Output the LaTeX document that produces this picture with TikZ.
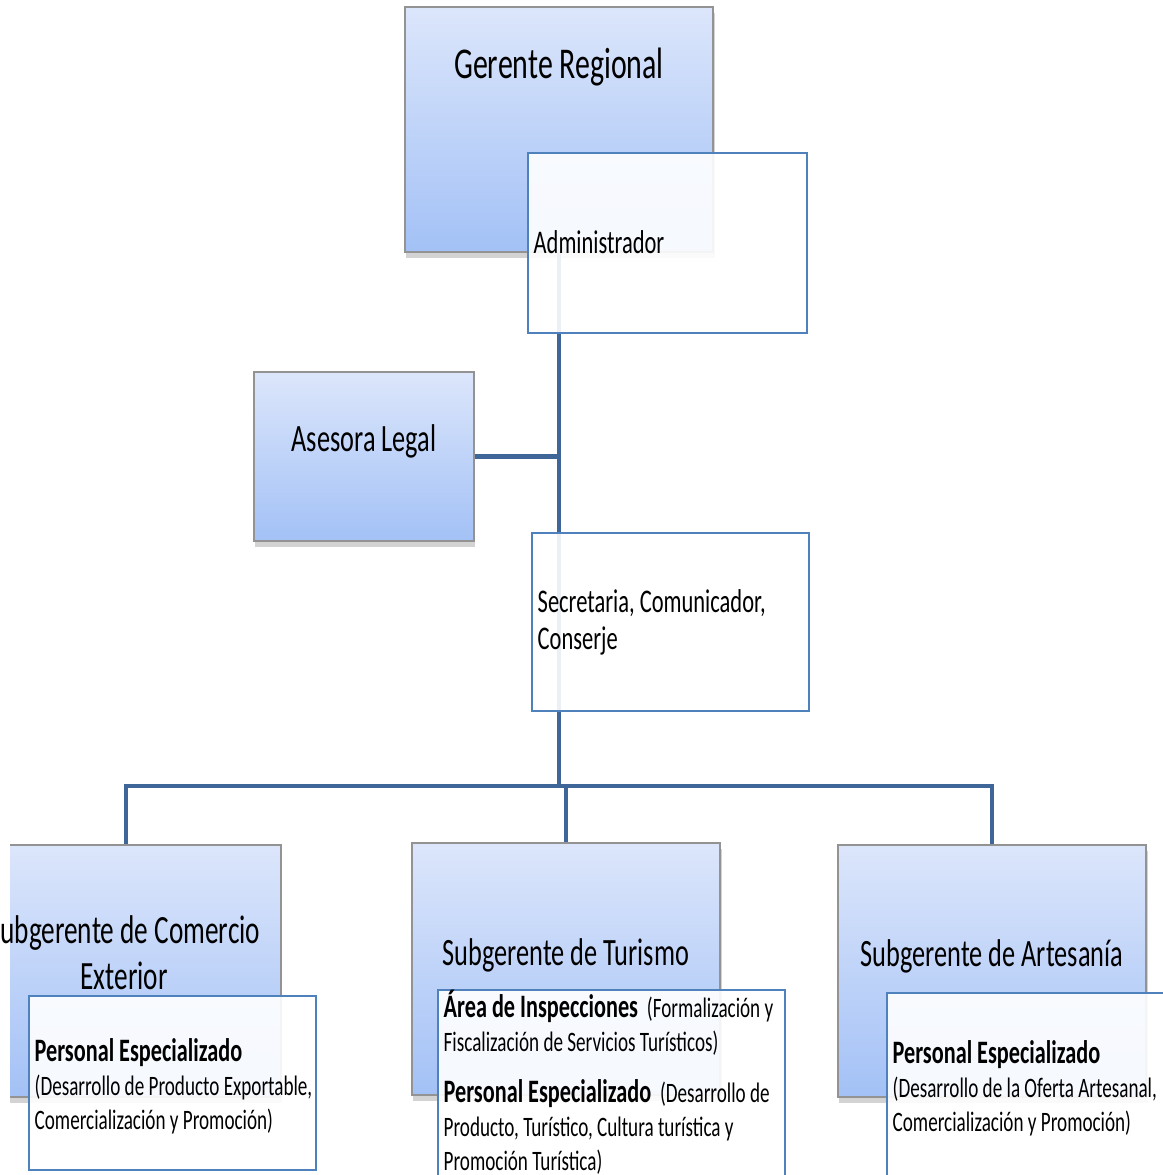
\documentclass[tikz,border=0pt]{standalone}
\usepackage{fontspec}
\setmainfont{Carlito}[FakeStretch=0.68]
\usetikzlibrary{shadows}
\definecolor{conncol}{HTML}{3F6699}
\definecolor{edgecol}{HTML}{4F81BD}
\definecolor{topcol}{HTML}{DCE6FB}
\definecolor{botcol}{HTML}{A3C1F6}
\newcommand{\headpart}[1]{{\fontsize{9.3}{9.7}\selectfont\bfseries #1}\hspace{1.3pt}}
\newcommand{\leftlines}[1]{\begin{tabular}[t]{@{}l@{}}#1\end{tabular}}
\newcommand{\midlines}[1]{\begin{tabular}[t]{@{}c@{}}#1\end{tabular}}
\tikzset{
  headbox/.style={draw=gray!85, line width=0.4pt, top color=topcol, bottom color=botcol,
    drop shadow={opacity=0.35, shadow xshift=0.4pt, shadow yshift=-1.6pt}, inner sep=0pt},
  infobox/.style={draw=edgecol, line width=0.75pt, fill=white, fill opacity=0.9, inner sep=0pt},
  conn/.style={draw=conncol, line width=1.2pt},
  lbl/.style={inner sep=0pt, text=black}
}

\begin{document}
\begin{tikzpicture}[x=0.01cm,y=-0.01cm]
\useasboundingbox (0,0) rectangle (1162,1175);

% shaded boxes
\node[headbox, minimum width=3.08cm, minimum height=2.45cm] (ger) at (559,129.5) {};
\node[headbox, minimum width=2.20cm, minimum height=1.69cm] (ases) at (364,456.5) {};
\begin{scope}
\clip (10,0) rectangle (1162,1175);
\node[headbox, minimum width=3.10cm, minimum height=2.52cm] (sub1) at (126,971) {};
\end{scope}
\node[headbox, minimum width=3.08cm, minimum height=2.52cm] (sub2) at (566,969) {};
\node[headbox, minimum width=3.08cm, minimum height=2.52cm] (sub3) at (992,971) {};

% lines
\coordinate (bus) at (0,786);
\draw[conn] (ger.south) -- (ger.south |- bus);
\draw[conn] (ases.east) -- (ases.east -| ger.south);
\draw[conn] (sub1.north) |- (bus -| sub3.north) -- (sub3.north);
\draw[conn] (sub2.north) -- (sub2.north |- bus);

% white boxes
\node[infobox, minimum width=2.79cm, minimum height=1.80cm] (adm) at (667.5,243) {};
\node[infobox, minimum width=2.77cm, minimum height=1.78cm] (sec) at (670.5,622) {};
\node[infobox, minimum width=2.87cm, minimum height=1.74cm] (det1) at (172.5,1083) {};
\node[infobox, minimum width=3.47cm, minimum height=2.15cm] (det2) at (611.5,1097.5) {};
\node[infobox, minimum width=2.93cm, minimum height=2.15cm] (det3) at (1033.5,1100.5) {};

% texts
\node[lbl, anchor=base, font=\fontsize{12.5}{15}\selectfont] (gerT) at (559,78) {Gerente Regional};
\node[lbl, anchor=base west, font=\fontsize{9.4}{11}\selectfont] (admT) at (533,253) {Administrador};
\node[lbl, anchor=base, font=\fontsize{11}{13}\selectfont] (asesT) at (364,451) {Asesora Legal};
\node[lbl, anchor=base west, font=\fontsize{9.4}{10.8}\selectfont] (secT) at (537,612)
  {\leftlines{Secretaria, Comunicador,\\Conserje}};
\node[lbl, anchor=base, font=\fontsize{11.4}{13.1}\selectfont] (sub1T) at (124,943)
  {\midlines{Subgerente de Comercio\\Exterior}};
\node[lbl, anchor=base, font=\fontsize{11}{13}\selectfont] (sub2T) at (566,965) {Subgerente de Turismo};
\node[lbl, anchor=base, font=\fontsize{11}{13}\selectfont] (sub3T) at (992,966) {Subgerente de Artesanía};
\node[lbl, anchor=base west, font=\fontsize{8}{9.7}\selectfont] (det1T) at (34,1061)
  {\leftlines{\headpart{Personal Especializado}\\(Desarrollo de Producto Exportable,\\Comercialización y Promoción)}};
\node[lbl, anchor=base west, font=\fontsize{8}{9.7}\selectfont] (det2T) at (443,1017)
  {\leftlines{\headpart{Área de Inspecciones} (Formalización y\\Fiscalización de Servicios Turísticos)\\[4.8pt]
   \headpart{Personal Especializado} (Desarrollo de\\Producto, Turístico, Cultura turística y\\Promoción Turística)}};
\node[lbl, anchor=base west, font=\fontsize{8}{9.7}\selectfont] (det3T) at (892,1063)
  {\leftlines{\headpart{Personal Especializado}\\(Desarrollo de la Oferta Artesanal,\\Comercialización y Promoción)}};
\end{tikzpicture}
\end{document}
